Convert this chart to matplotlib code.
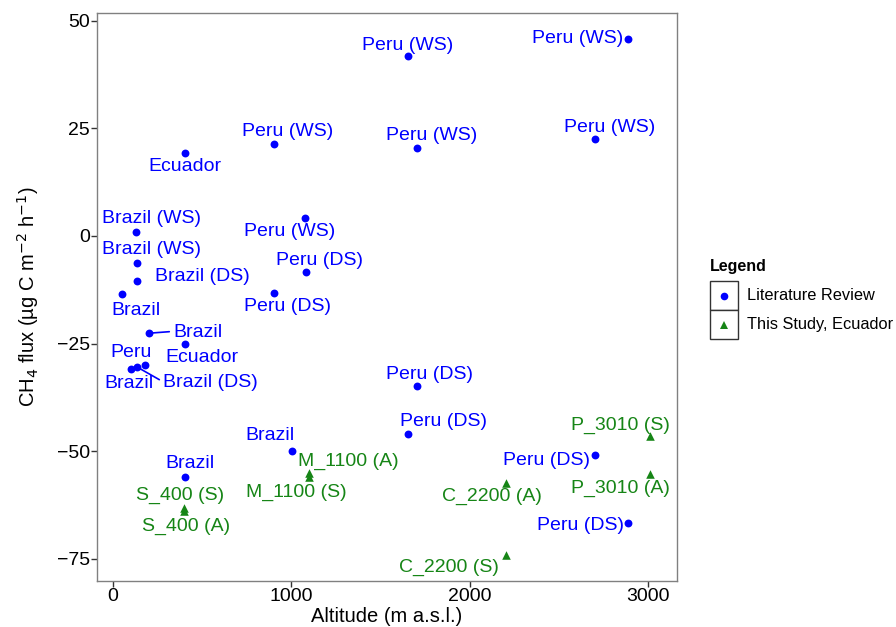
import matplotlib
matplotlib.use("Agg")
import matplotlib.pyplot as plt
from matplotlib.lines import Line2D
from matplotlib.patches import Rectangle

plt.rcParams['font.family'] = ['Liberation Sans', 'DejaVu Sans']

# ---------------- data ----------------
lit_alt = [2887, 1653, 2702, 1701, 902, 403, 1076, 129, 133, 133, 52, 202, 403,
           99, 133, 181, 1081, 900, 1703, 1653, 2702, 2887, 1001, 403]
lit_flux = [45.8, 41.8, 22.5, 20.4, 21.4, 19.3, 4.2, 0.9, -6.2, -10.5, -13.5, -22.6, -25.0,
            -31.0, -30.4, -30.0, -8.4, -13.3, -34.9, -45.9, -50.8, -66.6, -49.9, -56.1]
lit_labels = ["Peru (WS)", "Peru (WS)", "Peru (WS)", "Peru (WS)", "Peru (WS)", "Ecuador",
              "Peru (WS)", "Brazil (WS)", "Brazil (WS)", "Brazil (DS)", "Brazil", "Brazil",
              "Ecuador", "Brazil", "Brazil (DS)", "Peru", "Peru (DS)", "Peru (DS)",
              "Peru (DS)", "Peru (DS)", "Peru (DS)", "Peru (DS)", "Brazil", "Brazil"]

study_alt = [400, 400, 1100, 1100, 2200, 2200, 3010, 3010]
study_flux = [-63.1, -64.0, -55.1, -56.0, -57.3, -74.1, -46.5, -55.3]
study_labels = ["S_400 (S)", "S_400 (A)", "M_1100 (A)", "M_1100 (S)",
                "C_2200 (A)", "C_2200 (S)", "P_3010 (S)", "P_3010 (A)"]

x_ticks = [0, 1000, 2000, 3000]
y_ticks = [50, 25, 0, -25, -50, -75]

# label offsets (pixels, x right / y up) and whether a connector segment is drawn
lit_offsets = [(-51, 0), (0, 11), (14, 12), (15, 13), (14, 12), (0, -14),
               (-15, -14), (16, 14), (15, 13), (66, 5), (14, -16), (49, 1),
               (17, -14), (-2, -14), (74, -16), (-14, 13), (14, 12), (14, -13),
               (13, 12), (35, 12), (-49, -6), (-48, -3), (-22, 15), (5, 14)]
lit_segment = [False] * 24
lit_segment[11] = True
lit_segment[14] = True
study_offsets = [(-4, 12), (2, -15), (39, 12), (-13, -15),
                 (-14, -14), (-57, -13), (-30, 11), (-30, -14)]

blue = "#0000FF"
green = "#168516"

fig = plt.figure(figsize=(8.96, 6.27), dpi=100)
ax = fig.add_axes([96.7 / 896, 1 - 580.7 / 627, (677 - 96.7) / 896, (580.7 - 13) / 627])

ax.scatter(lit_alt, lit_flux, s=32, marker='o', color=blue, zorder=3, linewidths=0)
ax.scatter(study_alt, study_flux, s=38, marker='^', color=green, zorder=3, linewidths=0)

for x, y, t, off, seg in zip(lit_alt, lit_flux, lit_labels, lit_offsets, lit_segment):
    kw = {}
    if seg:
        kw = dict(arrowprops=dict(arrowstyle='-', color=blue, lw=1.2, shrinkA=1, shrinkB=2,
                                  relpos=(0.0, 0.55)))
    ax.annotate(t, (x, y), xytext=off, textcoords='offset pixels', ha='center', va='center',
                color=blue, fontsize=14, **kw)
for x, y, t, off in zip(study_alt, study_flux, study_labels, study_offsets):
    ax.annotate(t, (x, y), xytext=off, textcoords='offset pixels', ha='center', va='center',
                color=green, fontsize=14)

ax.set_xlim(-91, 3160)
ax.set_ylim(-80.1, 51.8)
ax.set_xticks(x_ticks)
ax.set_yticks(y_ticks)
ax.set_xticklabels([str(v) for v in x_ticks])
ax.set_yticklabels([str(v).replace('-', '\u2212') for v in y_ticks])
for s in ax.spines.values():
    s.set_color('#808080')
    s.set_linewidth(1.0)
ax.tick_params(axis='both', color='#333333', labelcolor='black', length=4, width=1,
               labelsize=14, pad=1)

ax.set_xlabel("Altitude (m a.s.l.)", fontsize=14.5, labelpad=2)
ax.set_ylabel("CH$_4$ flux (µg C m$^{-2}$ h$^{-1}$)", fontsize=14.5, labelpad=11)

# legend (drawn in figure pixel space)
W, H = 896, 627
def fx(px): return px / W
def fy(py): return 1 - py / H

fig.text(fx(710), fy(266), "Legend", fontsize=11.5, fontweight='bold', ha='left', va='center')
leg_labels = ["Literature Review", "This Study, Ecuador"]
leg_colors = [blue, green]
leg_markers = ['o', '^']
for i, (lab, c, m) in enumerate(zip(leg_labels, leg_colors, leg_markers)):
    top = 281 + 29 * i
    fig.patches.append(Rectangle((fx(710), fy(top + 29)), 28 / W, 29 / H, transform=fig.transFigure,
                                 facecolor='white', edgecolor='#333333', lw=1.0))
    fig.lines.append(Line2D([fx(724)], [fy(top + 14.5)], marker=m, color=c, markersize=5.5,
                            markeredgewidth=0, linestyle='none', transform=fig.transFigure))
    fig.text(fx(747), fy(top + 14.5), lab, fontsize=11.8, ha='left', va='center')

fig.savefig("out.png", dpi=100)
